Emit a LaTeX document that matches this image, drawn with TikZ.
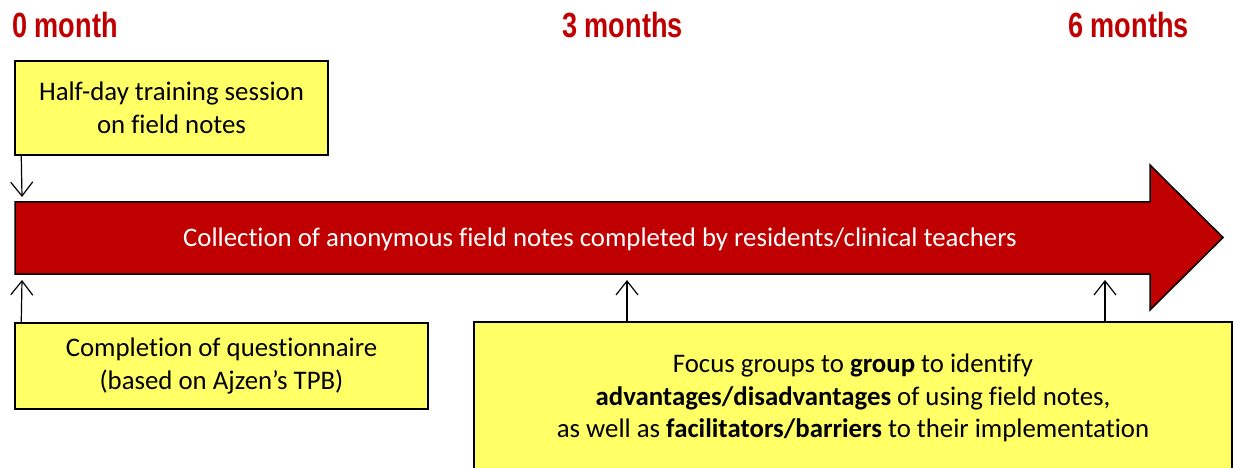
\documentclass[tikz,border=0pt]{standalone}
\usepackage{fontspec}
\setmainfont[Ligatures=NoCommon]{Carlito}
\newfontfamily\hdrfont[FakeStretch=0.775]{Liberation Sans}
\usetikzlibrary{arrows.meta}
\definecolor{darkred}{HTML}{C00000}
\definecolor{boxyellow}{HTML}{FFFF66}
\begin{document}
\begin{tikzpicture}[x=1pt,y=-1pt,
 hdr/.style={font=\hdrfont\bfseries\fontsize{35}{40}\selectfont, text=darkred, inner sep=0, anchor=base west},
 ybox/.style={draw=black, line width=1.5pt, fill=boxyellow, font=\fontsize{26.8}{32.5}\selectfont, align=center, inner sep=0},
 conn/.style={line width=1.2pt, -{Straight Barb[length=14pt,width=22pt,line width=1.2pt]}}
]
\useasboundingbox (0,0) rectangle (1235,468);
\node[hdr] (m0) at (12,38) {0 month};
\node[hdr] (m3) at (562,38) {3 months};
\node[hdr] (m6) at (1068,38) {6 months};
\draw[fill=darkred, line width=1.5pt] (15,202) -- (1150,202) -- (1150,165) -- (1223,237.5) -- (1150,310) -- (1150,274) -- (15,274) -- cycle;
\node[text=white, font=\fontsize{26.8}{32}\selectfont, inner sep=0] (lbl) at (600,239) {Collection of anonymous field notes completed by residents/clinical teachers};
\node[ybox, minimum width=313pt, minimum height=94pt] (b1) at (171.5,108) {Half-day training session\\on field notes};
\node[ybox, minimum width=413pt, minimum height=86pt] (b2) at (221.5,366) {Completion of questionnaire\\(based on Ajzen’s TPB)};
\node[ybox, minimum width=758pt, minimum height=152pt] (b3) at (853,398) {Focus groups to \textbf{group} to identify\\\textbf{advantages/disadvantages} of using field notes,\\as well as \textbf{facilitators/barriers} to their implementation};
\coordinate (a1e) at (22,197);
\coordinate (a2e) at (22,280);
\coordinate (a3e) at (627,280);
\coordinate (a4e) at (1105,280);
\draw[conn] ([xshift=7pt]b1.south west) -- (a1e);
\draw[conn] ([xshift=7pt]b2.north west) -- (a2e);
\draw[conn] (b3.north west -| a3e) -- (a3e);
\draw[conn] (b3.north west -| a4e) -- (a4e);
\end{tikzpicture}
\end{document}
